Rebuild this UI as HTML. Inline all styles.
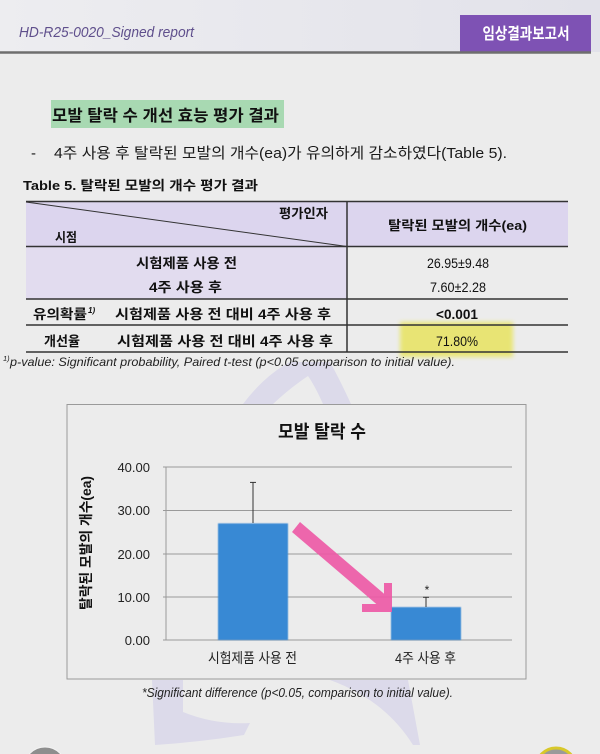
<!DOCTYPE html>
<html><head><meta charset="utf-8">
<style>
html,body{margin:0;padding:0;background:#ececec;}
svg{display:block;}
text{font-family:"Liberation Sans","Noto Sans CJK KR",sans-serif;}
.b{font-weight:bold;}
.i{font-style:italic;}
</style></head>
<body>
<svg width="600" height="754" viewBox="0 0 600 754" xmlns="http://www.w3.org/2000/svg">
<defs>
<linearGradient id="hg" x1="0" x2="1" y1="0" y2="0">
<stop offset="0" stop-color="#ededf0"/><stop offset="1" stop-color="#e2e2ea"/>
</linearGradient>
<filter id="bl" x="-20%" y="-20%" width="140%" height="140%"><feGaussianBlur stdDeviation="2"/></filter>
<filter id="bl1" x="-5%" y="-5%" width="110%" height="110%"><feGaussianBlur stdDeviation="0.6"/></filter>
</defs>
<rect x="0" y="0" width="600" height="754" fill="#ececec"/>
<rect x="0" y="0" width="600" height="52" fill="url(#hg)"/>

<!-- watermark -->
<g fill="#dcdaea">
<path d="M243,404 Q265,375 290,362 L330,362 Q340,380 351,404 L323,404 Q315,386 308,376 Q290,388 273,404 Z"/>
<path d="M152,680 L183,680 L183,712 Q215,725 250,723 L244,735 Q200,742 155,745 Z"/>
<path d="M330,680 L408,680 L420,745 L413,745 Q385,700 330,680 Z"/>
</g>

<!-- header -->
<text x="19" y="37" font-size="15" class="i" fill="#5f4f8c" textLength="175" lengthAdjust="spacingAndGlyphs">HD-R25-0020_Signed report</text>
<rect x="460" y="15" width="131" height="37" fill="#7e52b4"/>
<text x="526" y="39" font-size="16" class="b" fill="#ffffff" text-anchor="middle" textLength="87" lengthAdjust="spacingAndGlyphs">임상결과보고서</text>
<line x1="0" y1="52.5" x2="591" y2="52.5" stroke="#6e6e6e" stroke-width="2.5"/>

<!-- section title -->
<rect x="51" y="100" width="233" height="28" fill="#a8d9b2"/>
<text x="52" y="121" font-size="16" class="b" fill="#111" textLength="227" lengthAdjust="spacingAndGlyphs">모발 탈락 수 개선 효능 평가 결과</text>
<text x="31" y="158" font-size="15" fill="#1a1a1a">-</text>
<text x="54" y="158" font-size="15" fill="#1a1a1a" textLength="453" lengthAdjust="spacingAndGlyphs">4주 사용 후 탈락된 모발의 개수(ea)가 유의하게 감소하였다(Table 5).</text>
<text x="23" y="190" font-size="13" class="b" fill="#111" textLength="235" lengthAdjust="spacingAndGlyphs">Table 5. 탈락된 모발의 개수 평가 결과</text>

<!-- table -->
<rect x="26" y="202" width="542" height="44.5" fill="#dcd5ee"/>
<rect x="26" y="246.5" width="321" height="52.5" fill="#e2dcef"/>
<rect x="400" y="322" width="113" height="35" fill="#e8e468" opacity="0.9" filter="url(#bl)"/>
<g stroke="#333" stroke-width="1.5">
<line x1="26" y1="201.5" x2="568" y2="201.5"/>
<line x1="26" y1="246.5" x2="568" y2="246.5"/>
<line x1="26" y1="299" x2="568" y2="299"/>
<line x1="26" y1="325" x2="568" y2="325"/>
<line x1="26" y1="352" x2="568" y2="352"/>
<line x1="347" y1="201.5" x2="347" y2="352"/>
</g>
<line x1="26" y1="202" x2="347" y2="246.5" stroke="#333" stroke-width="1"/>
<text x="279" y="218" font-size="13" class="b" fill="#111" textLength="49" lengthAdjust="spacingAndGlyphs">평가인자</text>
<text x="55" y="242" font-size="13" class="b" fill="#111" textLength="22" lengthAdjust="spacingAndGlyphs">시점</text>
<text x="388" y="230" font-size="13" class="b" fill="#111" textLength="139" lengthAdjust="spacingAndGlyphs">탈락된 모발의 개수(ea)</text>

<text x="136" y="268" font-size="13.5" class="b" fill="#111" textLength="101" lengthAdjust="spacingAndGlyphs">시험제품 사용 전</text>
<text x="149" y="292" font-size="13.5" class="b" fill="#111" textLength="73" lengthAdjust="spacingAndGlyphs">4주 사용 후</text>
<text x="427" y="268" font-size="13.5" fill="#111" textLength="62" lengthAdjust="spacingAndGlyphs">26.95±9.48</text>
<text x="430" y="292" font-size="13.5" fill="#111" textLength="56" lengthAdjust="spacingAndGlyphs">7.60±2.28</text>

<text x="33" y="319" font-size="13.5" class="b" fill="#111" textLength="54" lengthAdjust="spacingAndGlyphs">유의확률</text>
<text x="88" y="313" font-size="8" class="b i" fill="#111">1)</text>
<text x="115" y="319" font-size="13.5" class="b" fill="#111" textLength="216" lengthAdjust="spacingAndGlyphs">시험제품 사용 전 대비 4주 사용 후</text>
<text x="436" y="319" font-size="13.5" class="b" fill="#111" textLength="42" lengthAdjust="spacingAndGlyphs">&lt;0.001</text>

<text x="44" y="346" font-size="13.5" class="b" fill="#111" textLength="36" lengthAdjust="spacingAndGlyphs">개선율</text>
<text x="117" y="346" font-size="13.5" class="b" fill="#111" textLength="216" lengthAdjust="spacingAndGlyphs">시험제품 사용 전 대비 4주 사용 후</text>
<text x="436" y="346" font-size="13.5" fill="#111" textLength="42" lengthAdjust="spacingAndGlyphs">71.80%</text>

<text x="3" y="361" font-size="7.5" class="i" fill="#222">1)</text>
<text x="10" y="366" font-size="12" class="i" fill="#222" textLength="445" lengthAdjust="spacingAndGlyphs">p-value: Significant probability, Paired t-test (p&lt;0.05 comparison to initial value).</text>

<!-- chart box -->
<rect x="67" y="404.5" width="459" height="274.5" fill="#ececec" stroke="#9a9a9a" stroke-width="1"/>
<text x="322" y="438" font-size="18" class="b" fill="#111" text-anchor="middle" textLength="88" lengthAdjust="spacingAndGlyphs">모발 탈락 수</text>

<g stroke="#9a9a9a" stroke-width="1">
<line x1="163" y1="467" x2="512" y2="467"/>
<line x1="163" y1="510.5" x2="512" y2="510.5"/>
<line x1="163" y1="554" x2="512" y2="554"/>
<line x1="163" y1="597" x2="512" y2="597"/>
<line x1="163" y1="640" x2="512" y2="640"/>
<line x1="166" y1="467" x2="166" y2="640"/>
</g>
<g font-size="13" fill="#222" text-anchor="end">
<text x="150" y="472">40.00</text>
<text x="150" y="515">30.00</text>
<text x="150" y="559">20.00</text>
<text x="150" y="602">10.00</text>
<text x="150" y="645">0.00</text>
</g>
<text transform="translate(91,543) rotate(-90)" font-size="14" class="b" fill="#111" text-anchor="middle" textLength="134" lengthAdjust="spacingAndGlyphs">탈락된 모발의 개수(ea)</text>

<!-- bars -->
<g filter="url(#bl1)">
<rect x="218" y="523.4" width="70" height="116.6" fill="#3789d4"/>
<rect x="391" y="607.1" width="70" height="32.9" fill="#3789d4"/>
</g>
<g stroke="#333" stroke-width="1">
<line x1="253" y1="523" x2="253" y2="482.4"/>
<line x1="250" y1="482.4" x2="256" y2="482.4"/>
<line x1="426" y1="607" x2="426" y2="597.3"/>
<line x1="423" y1="597.3" x2="429" y2="597.3"/>
</g>
<text x="427" y="594" font-size="12" fill="#222" text-anchor="middle">*</text>

<!-- pink arrow -->
<g fill="#ee58a6" opacity="0.9">
<polygon points="292,532 300,522 389,598 381,608"/>
<rect x="384" y="583" width="8" height="29"/>
<rect x="362" y="604" width="30" height="8"/>
</g>

<text x="208" y="663" font-size="14" fill="#222" textLength="89" lengthAdjust="spacingAndGlyphs">시험제품 사용 전</text>
<text x="395" y="663" font-size="14" fill="#222" textLength="61" lengthAdjust="spacingAndGlyphs">4주 사용 후</text>

<text x="142" y="697" font-size="13" class="i" fill="#222" textLength="311" lengthAdjust="spacingAndGlyphs">*Significant difference (p&lt;0.05, comparison to initial value).</text>

<!-- bottom circles -->
<circle cx="45" cy="768" r="21" fill="#8e8e8e" stroke="#f4f4f4" stroke-width="1"/>
<circle cx="556" cy="768" r="20" fill="#9a9a9a" stroke="#d8c82a" stroke-width="3"/>
</svg>
</body></html>
